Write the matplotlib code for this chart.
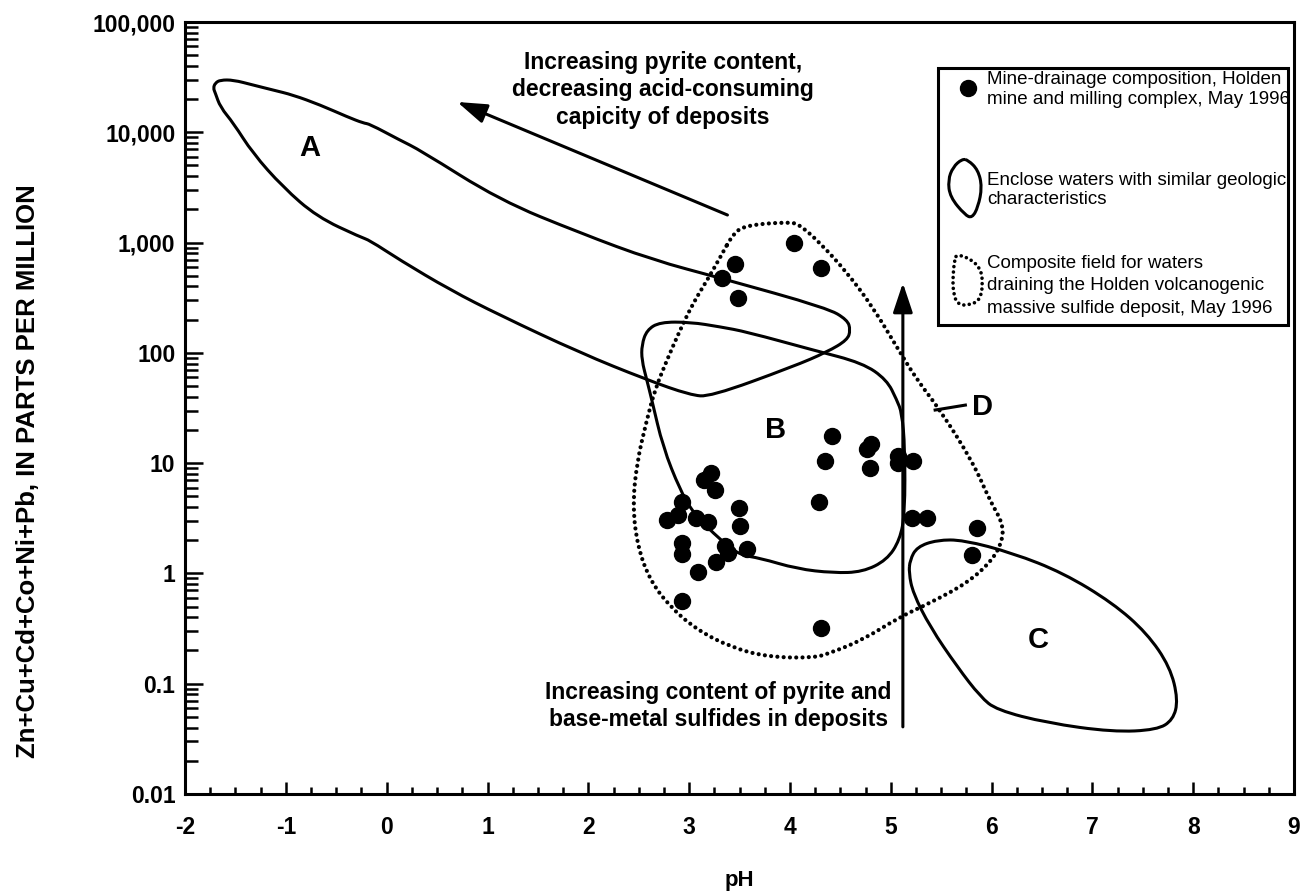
import numpy as np
import matplotlib
matplotlib.use("Agg")
import matplotlib.pyplot as plt
from matplotlib.path import Path
from matplotlib.patches import PathPatch, Rectangle
from matplotlib.ticker import MultipleLocator, LogLocator, FuncFormatter

plt.rcParams['font.family'] = ['Liberation Sans', 'DejaVu Sans']
plt.rcParams['axes.unicode_minus'] = False

# mine-drainage samples, Holden mine, May 1996 (pH, Zn+Cu+Cd+Co+Ni+Pb in ppm)
sample_ph = [4.42, 4.80, 4.76, 4.35, 4.79, 5.07, 5.22, 5.07, 3.22, 3.15,
             3.26, 2.93, 3.49, 2.78, 2.89, 3.07, 3.19, 3.50, 4.29, 5.21,
             5.36, 5.86, 5.81, 2.93, 2.93, 3.36, 3.39, 3.57, 3.27, 3.09,
             2.93, 4.31, 4.04, 3.45, 4.31, 3.33, 3.48]
sample_ppm = [17.6, 14.8, 13.4, 10.5, 9.1, 11.6, 10.5, 10.0, 8.2, 7.0,
              5.7, 4.4, 3.95, 3.05, 3.4, 3.2, 2.9, 2.7, 4.4, 3.2,
              3.2, 2.6, 1.47, 1.88, 1.49, 1.79, 1.52, 1.66, 1.26, 1.04,
              0.56, 0.32, 985, 635, 590, 480, 313]

# field outlines (closed)
field_a_ph = [1.92, 2.58, 3.01, 3.21, 4.03, 4.37, 4.57, 4.60, 4.57, 4.37,
              3.31, 2.64, 1.92, 1.12, 0.33, 0.13, -0.17, -0.23, -0.39, -0.66,
              -0.93, -1.13, -1.33, -1.52, -1.65, -1.70, -1.72, -1.70, -1.65, -1.52,
              -1.33, -1.03, -0.69, -0.26, -0.17, 0.13, 0.63, 1.12]
field_a_ppm = [100, 57, 41.5, 40, 75, 102, 131, 161, 199, 255,
               477, 695, 1220, 2430, 6900, 8500, 11900, 12100, 13800, 17700,
               21800, 24200, 26900, 29800, 29800, 28000, 25200, 22700, 16900, 12100,
               6490, 3190, 1710, 1120, 1050, 695, 372, 220]

field_b_ph = [2.53, 2.53, 2.58, 2.71, 3.01, 3.31, 3.57, 4.23, 4.72, 4.96,
              5.06, 5.11, 5.14, 5.14, 5.09, 4.96, 4.72, 4.43, 4.07, 3.70,
              3.50, 3.31, 3.04, 2.91, 2.74, 2.63, 2.58]
field_b_ppm = [86, 118, 161, 190, 190, 172, 155, 106, 81, 57,
               37.4, 28.5, 14.0, 3.53, 2.01, 1.32, 1.03, 1.01, 1.10, 1.38,
               1.47, 2.01, 3.53, 5.71, 14.0, 37.4, 56.8]

field_c_ph = [5.19, 5.26, 5.46, 5.72, 6.21, 6.71, 7.20, 7.54, 7.77, 7.85,
              7.80, 7.64, 7.20, 6.55, 6.05, 5.89, 5.66, 5.39, 5.22, 5.18]
field_c_ppm = [1.32, 1.74, 2.01, 2.01, 1.53, 1.01, 0.54, 0.288, 0.142, 0.0713,
               0.0469, 0.0381, 0.0365, 0.0441, 0.0578, 0.0759, 0.142, 0.327, 0.665, 1.01]

field_d_ph = [3.44, 3.57, 4.00, 4.10, 4.30, 4.57, 4.82, 5.06, 5.26, 5.49,
              5.82, 5.98, 6.11, 6.11, 6.01, 5.76, 5.39, 5.09, 4.72, 4.40,
              4.23, 3.77, 3.41, 3.08, 2.81, 2.61, 2.49, 2.44, 2.48, 2.58,
              2.66, 2.78, 2.91, 3.04, 3.18, 3.31]
field_d_ppm = [1220, 1440, 1540, 1440, 991, 530, 261, 113, 56.8, 30.3,
               10.0, 4.63, 2.87, 2.01, 1.32, 0.819, 0.540, 0.403, 0.249, 0.190,
               0.171, 0.175, 0.215, 0.307, 0.497, 0.873, 1.74, 4.01, 10.0, 24.6,
               46.0, 86.1, 161, 283, 458, 740]

field_labels = ['A', 'B', 'C', 'D']
label_ph = [-0.76, 3.86, 6.46, 5.91]
label_ppm = [7210, 20.0, 0.249, 32.3]

y_ticks = [0.01, 0.1, 1, 10, 100, 1000, 10000, 100000]

# legend icons, axes fraction
icon_loop_x = [0.7061, 0.7151, 0.7187, 0.7151, 0.7097, 0.7033, 0.6898, 0.6880, 0.6925, 0.7006]
icon_loop_y = [0.8212, 0.8083, 0.7863, 0.7604, 0.7461, 0.7500, 0.7733, 0.7953, 0.8122, 0.8225]
icon_dot_x = [0.6961, 0.7051, 0.7169, 0.7196, 0.7169, 0.7078, 0.6970, 0.6925, 0.6925, 0.6943]
icon_dot_y = [0.6982, 0.6956, 0.6826, 0.6619, 0.6399, 0.6334, 0.6334, 0.6490, 0.6749, 0.6943]

legend_lines = [
    ('Mine-drainage composition, Holden', 0.9250),
    ('mine and milling complex, May 1996', 0.8990),
    ('Enclose waters with similar geologic', 0.7950),
    ('characteristics', 0.7695),
    ('Composite field for waters', 0.6878),
    ('draining the Holden volcanogenic', 0.6593),
    ('massive sulfide deposit, May 1996', 0.6295),
]


def smooth_outline(xs, ys, logy=True):
    # quadratic bezier through edge midpoints, read points as controls
    x = np.asarray(xs, float)
    y = np.log10(ys) if logy else np.asarray(ys, float)
    xm = (x + np.roll(x, -1)) / 2
    ym = (y + np.roll(y, -1)) / 2
    verts = [(xm[-1], ym[-1])]
    codes = [Path.MOVETO]
    for i in range(len(x)):
        verts += [(x[i], y[i]), (xm[i], ym[i])]
        codes += [Path.CURVE3, Path.CURVE3]
    verts = np.array(verts)
    if logy:
        verts[:, 1] = 10 ** verts[:, 1]
    return Path(verts, codes)


fig = plt.figure(figsize=(13.05, 8.91), dpi=100)
ax = fig.add_axes([0.1418, 0.1089, 0.8498, 0.8664])
ax.set_yscale('log')
ax.set_xlim(-2, 9)
ax.set_ylim(0.01, 100000)

solid = dict(facecolor='none', edgecolor='black', lw=2.2, joinstyle='round')
for ph, ppm in [(field_a_ph, field_a_ppm), (field_b_ph, field_b_ppm), (field_c_ph, field_c_ppm)]:
    ax.add_patch(PathPatch(smooth_outline(ph, ppm), **solid))
ax.add_patch(PathPatch(smooth_outline(field_d_ph, field_d_ppm), facecolor='none',
                       edgecolor='black', lw=3.0, linestyle=(0, (0.01, 1.5)),
                       capstyle='round'))

ax.plot(sample_ph, sample_ppm, 'o', color='black', ms=11.5, zorder=5)

for lab, x, y in zip(field_labels, label_ph, label_ppm):
    ax.text(x, y, lab, fontsize=21, fontweight='bold', ha='center', va='center')
ax.plot([5.44, 5.74], [30.3, 33.6], color='black', lw=2.2)

# arrows
ax.annotate('', xy=(0.70, 18830), xytext=(3.38, 1778),
            arrowprops=dict(arrowstyle='-|>,head_length=0.9,head_width=0.3',
                            mutation_scale=20, lw=2.2, color='black',
                            shrinkA=0, shrinkB=0))
ax.annotate('', xy=(5.12, 430), xytext=(5.12, 0.0406),
            arrowprops=dict(arrowstyle='-|>,head_length=0.9,head_width=0.3',
                            mutation_scale=20, lw=2.2, color='black',
                            shrinkA=0, shrinkB=0))

ax.text(2.74, 24200, 'Increasing pyrite content,\ndecreasing acid-consuming\ncapicity of deposits',
        fontsize=16.5, fontweight='bold', ha='center', va='center', linespacing=1.23)
ax.text(3.29, 0.0628, 'Increasing content of pyrite and\nbase-metal sulfides in deposits',
        fontsize=16.5, fontweight='bold', ha='center', va='center', linespacing=1.23)

# legend box
box = Rectangle((0.679, 0.6075), 0.3156, 0.3329, transform=ax.transAxes,
                facecolor='white', edgecolor='black', lw=2.2, zorder=6)
ax.add_patch(box)
ax.plot([0.706], [0.9145], 'o', color='black', ms=11.5, transform=ax.transAxes, zorder=7)
ax.add_patch(PathPatch(smooth_outline(icon_loop_x, icon_loop_y, logy=False),
                       transform=ax.transAxes, zorder=7, **solid))
ax.add_patch(PathPatch(smooth_outline(icon_dot_x, icon_dot_y, logy=False),
                       transform=ax.transAxes, zorder=7, facecolor='none',
                       edgecolor='black', lw=2.6, linestyle=(0, (0.01, 1.5)),
                       capstyle='round'))
for txt, yy in legend_lines:
    t = ax.text(0.7232, yy, txt, transform=ax.transAxes, fontsize=13.5,
                ha='left', va='center', zorder=7)
    t.set_clip_path(box)

# axes styling
for sp in ax.spines.values():
    sp.set_linewidth(2.2)
ax.xaxis.set_major_locator(MultipleLocator(1))
ax.xaxis.set_minor_locator(MultipleLocator(0.25))
ax.yaxis.set_major_locator(LogLocator(base=10, numticks=20))
ax.yaxis.set_minor_locator(LogLocator(base=10, subs=np.arange(2, 10), numticks=20))
ax.yaxis.set_major_formatter(FuncFormatter(lambda v, p: f'{v:,.0f}' if v >= 1 else f'{v:g}'))
ax.set_yticks(y_ticks)
ax.tick_params(which='both', direction='in', top=False, right=False, width=1.8)
ax.tick_params(axis='x', which='major', length=9, pad=16, labelsize=16.5)
ax.tick_params(axis='x', which='minor', length=5)
ax.tick_params(axis='y', which='major', length=13, pad=7, labelsize=16.5)
ax.tick_params(axis='y', which='minor', length=9)
for lab in ax.get_xticklabels() + ax.get_yticklabels():
    lab.set_fontweight('bold')

ax.set_xlabel('pH', fontsize=16, fontweight='bold', labelpad=22)
ax.set_ylabel('Zn+Cu+Cd+Co+Ni+Pb, IN PARTS PER MILLION', fontsize=18.5,
              fontweight='bold')
ax.yaxis.set_label_coords(-0.131, 0.418)

fig.savefig('out.png', dpi=100)
